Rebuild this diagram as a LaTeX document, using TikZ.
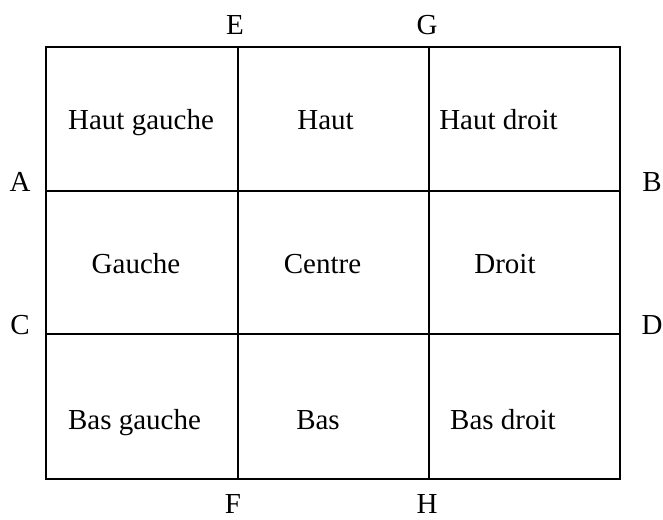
\documentclass[tikz,border=0pt]{standalone}
\usepackage{fontspec}
\setmainfont{Liberation Serif}
\begin{document}
\begin{tikzpicture}[x=1pt,y=-1pt,
  grid/.style={line width=1.2pt,black},
  lbl/.style={anchor=base,inner sep=0pt,font=\fontsize{29}{35}\selectfont},
  cell/.style={anchor=base,inner sep=0pt,font=\fontsize{29}{35}\selectfont}]
\useasboundingbox (0,0) rectangle (663,519);
% grid coordinates
\coordinate (tl) at (46,47);
\coordinate (br) at (620,479);
\coordinate (x1t) at (238,47);
\coordinate (x1b) at (238,479);
\coordinate (x2t) at (429,47);
\coordinate (x2b) at (429,479);
\coordinate (y1l) at (46,191);
\coordinate (y1r) at (620,191);
\coordinate (y2l) at (46,334);
\coordinate (y2r) at (620,334);
\draw[grid] (tl) rectangle (br);
\draw[grid] (x1t) -- (x1b);
\draw[grid] (x2t) -- (x2b);
\draw[grid] (y1l) -- (y1r);
\draw[grid] (y2l) -- (y2r);
% edge labels
\node[lbl] (E) at (235,35) {E};
\node[lbl] (G) at (427,35) {G};
\node[lbl] (A) at (20,191) {A};
\node[lbl] (B) at (652,191) {B};
\node[lbl] (C) at (20,334) {C};
\node[lbl] (D) at (652,334) {D};
\node[lbl] (F) at (233,513) {F};
\node[lbl] (H) at (427,513) {H};
% cell labels
\node[cell] (hg) at (141,129) {Haut gauche};
\node[cell] (h)  at (325.5,129) {Haut};
\node[cell] (hd) at (498.5,129) {Haut droit};
\node[cell] (g)  at (136,273) {Gauche};
\node[cell] (c)  at (322.5,273) {Centre};
\node[cell] (d)  at (505,273) {Droit};
\node[cell] (bg) at (134.5,429) {Bas gauche};
\node[cell] (b)  at (318,429) {Bas};
\node[cell] (bd) at (503,429) {Bas droit};
\end{tikzpicture}
\end{document}
